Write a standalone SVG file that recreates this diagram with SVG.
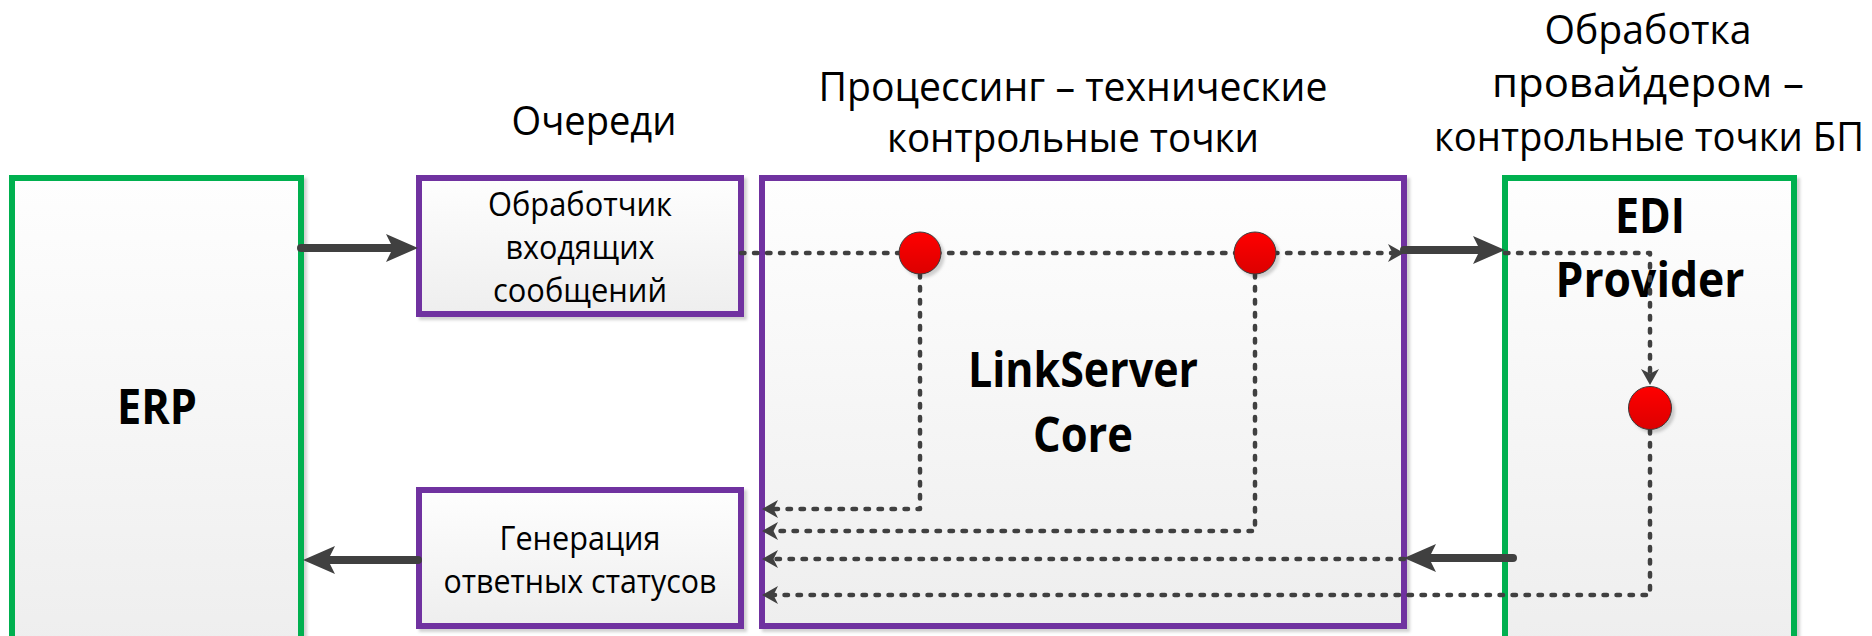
<svg xmlns="http://www.w3.org/2000/svg" width="1872" height="636" viewBox="0 0 1872 636">
  <style>
    .box { stroke-width: 6; fill: url(#boxFill); filter: url(#shadow); }
    .green { stroke: #00B050; }
    .purple { stroke: #7030A0; }
    .head { font-family: "Open Sans", "Noto Sans", sans-serif; font-size: 41px; fill: #000; text-anchor: middle; }
    .lbl { font-family: "Open Sans", "Noto Sans", sans-serif; font-size: 33px; fill: #000; text-anchor: middle; }
    .big { font-family: "Open Sans", "Noto Sans", sans-serif; font-size: 48px; font-weight: bold; fill: #000; text-anchor: middle; }
    .thick { fill: none; stroke: #404040; stroke-width: 8; stroke-linecap: round; marker-end: url(#bigArrow); }
    .dot { fill: none; stroke: #404040; stroke-width: 4.5; stroke-linecap: round; stroke-linejoin: round; stroke-dasharray: 3.5 9.5; marker-end: url(#smallArrow); }
    .pt { fill: url(#redFill); stroke: #3a3a3a; stroke-width: 1; filter: url(#shadow); }
  </style>
  <defs>
    <linearGradient id="boxFill" x1="0" y1="0" x2="0" y2="1">
      <stop offset="0" stop-color="#fefefe"/>
      <stop offset="1" stop-color="#eeeeee"/>
    </linearGradient>
    <linearGradient id="redFill" x1="0" y1="0" x2="0" y2="1">
      <stop offset="0" stop-color="#ff0000"/>
      <stop offset="1" stop-color="#dc0000"/>
    </linearGradient>
    <filter id="shadow" x="-10%" y="-10%" width="130%" height="130%">
      <feDropShadow dx="3" dy="3" stdDeviation="1.5" flood-color="#000" flood-opacity="0.18"/>
    </filter>
    <marker id="bigArrow" markerUnits="userSpaceOnUse" viewBox="0 0 32 28" markerWidth="32" markerHeight="28" refX="15" refY="14" orient="auto">
      <path d="M0,0 L32,14 L0,28 L7,14 Z" fill="#404040"/>
    </marker>
    <marker id="smallArrow" markerUnits="userSpaceOnUse" viewBox="0 0 16 18" markerWidth="16" markerHeight="18" refX="8" refY="9" orient="auto">
      <path d="M0,0 L16,9 L0,18 L4.5,9 Z" fill="#404040"/>
    </marker>
  </defs>

  <rect width="1872" height="636" fill="#ffffff"/>

  <g id="headings">
    <text class="head" x="594" y="135" textLength="165" lengthAdjust="spacingAndGlyphs">Очереди</text>
    <text class="head" x="1073" y="101" textLength="509" lengthAdjust="spacingAndGlyphs">Процессинг – технические</text>
    <text class="head" x="1073" y="152" textLength="372" lengthAdjust="spacingAndGlyphs">контрольные точки</text>
    <text class="head" x="1648" y="44" textLength="207" lengthAdjust="spacingAndGlyphs">Обработка</text>
    <text class="head" x="1648" y="97" textLength="312" lengthAdjust="spacingAndGlyphs">провайдером –</text>
    <text class="head" x="1864" y="151" textLength="430" lengthAdjust="spacingAndGlyphs" style="text-anchor:end">контрольные точки БП</text>
  </g>

  <g id="erp">
    <rect class="box green" x="12" y="178" width="289" height="470"/>
    <text class="big" x="157" y="424" textLength="80" lengthAdjust="spacingAndGlyphs">ERP</text>
  </g>

  <g id="inbound">
    <rect class="box purple" x="419" y="178" width="322" height="136"/>
    <text class="lbl" x="580" y="216" textLength="184" lengthAdjust="spacingAndGlyphs">Обработчик</text>
    <text class="lbl" x="580" y="259" textLength="149" lengthAdjust="spacingAndGlyphs">входящих</text>
    <text class="lbl" x="580" y="302" textLength="174" lengthAdjust="spacingAndGlyphs">сообщений</text>
  </g>

  <g id="statuses">
    <rect class="box purple" x="419" y="490" width="322" height="136"/>
    <text class="lbl" x="580" y="550" textLength="161" lengthAdjust="spacingAndGlyphs">Генерация</text>
    <text class="lbl" x="580" y="593" textLength="273" lengthAdjust="spacingAndGlyphs">ответных статусов</text>
  </g>

  <g id="core">
    <rect class="box purple" x="762" y="178" width="642" height="448"/>
    <text class="big" x="1083" y="387" textLength="230" lengthAdjust="spacingAndGlyphs">LinkServer</text>
    <text class="big" x="1083" y="452" textLength="100" lengthAdjust="spacingAndGlyphs">Core</text>
  </g>

  <g id="edi">
    <rect class="box green" x="1505" y="178" width="289" height="470"/>
    <text class="big" x="1650" y="233" textLength="70" lengthAdjust="spacingAndGlyphs">EDI</text>
    <text class="big" x="1650" y="297" textLength="189" lengthAdjust="spacingAndGlyphs">Provider</text>
  </g>

  <g id="connectors">
    <path class="thick" d="M301,248 H401"/>
    <path class="dot" d="M741,253 H1396"/>
    <path class="thick" d="M1404,250 H1488"/>
    <path class="dot" d="M1505,253 H1650 V377"/>
    <path class="dot" d="M920,274 V509 H770"/>
    <path class="dot" d="M1255,274 V531 H770"/>
    <path class="thick" d="M1513,558 H1421"/>
    <path class="dot" d="M1404,559 H770"/>
    <path class="dot" d="M1650,430 V595 H770"/>
    <path class="thick" d="M418,560 H320"/>
  </g>

  <g id="checkpoint-1">
    <circle class="pt" cx="920" cy="253" r="21"/>
  </g>
  <g id="checkpoint-2">
    <circle class="pt" cx="1255" cy="253" r="21"/>
  </g>
  <g id="checkpoint-3">
    <circle class="pt" cx="1650" cy="408" r="21.5"/>
  </g>
</svg>
